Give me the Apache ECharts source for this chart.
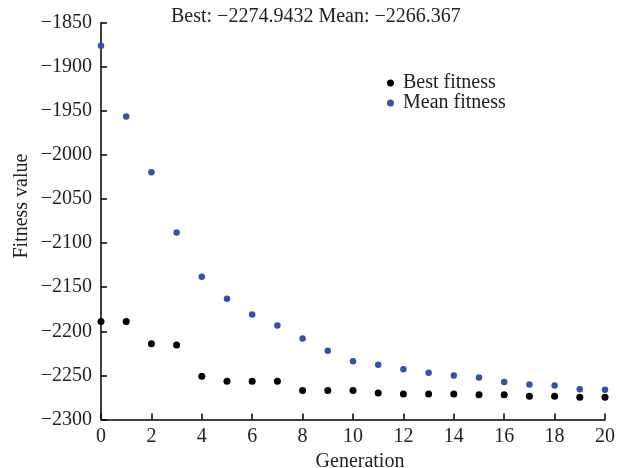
<!DOCTYPE html>
<html><head><meta charset="utf-8">
<script src="https://cdn.jsdelivr.net/npm/echarts@6/dist/echarts.min.js"></script>
<style>html,body{margin:0;padding:0;background:#fff}#c{width:624px;height:468px}</style>
</head><body><div id="c"></div>
<script>
const generations = [0,1,2,3,4,5,6,7,8,9,10,11,12,13,14,15,16,17,18,19,20];
const bestFitness = [-2189,-2189,-2214,-2215.5,-2251,-2256.5,-2256.5,-2256.5,-2267,-2267,-2267,-2270,-2271,-2271,-2271,-2272,-2272,-2273.6,-2273.6,-2274.9,-2274.9];
const meanFitness = [-1876,-1956.5,-2019.5,-2088,-2138,-2163,-2181,-2193.5,-2208,-2222,-2234,-2238,-2243,-2247,-2250,-2252.5,-2257.4,-2260.4,-2261.5,-2265.6,-2266.4];
const titleText = 'Best: \u22122274.9432 Mean: \u22122266.367';
const FONT = 'Liberation Serif';
const fmt = v => String(v).replace('-', '\u2212');
const chart = echarts.init(document.getElementById('c'), null, {renderer:'canvas'});
chart.setOption({
  animation:false,
  backgroundColor:'#fff',
  title:{text:titleText,left:171,top:7,padding:0,textStyle:{fontFamily:FONT,fontSize:20,fontWeight:'normal',color:'#222'}},
  legend:{orient:'vertical',left:382,top:68,itemGap:0,itemWidth:7,itemHeight:7,
    textStyle:{fontFamily:FONT,fontSize:20,color:'#222',padding:[0,0,0,4]},
    data:[{name:'Best fitness',icon:'circle'},{name:'Mean fitness',icon:'circle'}]},
  grid:{left:101,right:19,top:22.7,bottom:48.5,containLabel:false,outerBoundsMode:'none'},
  xAxis:{type:'value',min:0,max:20,interval:2,
    name:'Generation',nameLocation:'middle',nameGap:28,
    nameTextStyle:{fontFamily:FONT,fontSize:20,color:'#222',padding:[0,0,0,14]},
    axisLine:{lineStyle:{color:'#000',width:1.5}},
    axisTick:{inside:true,length:6,lineStyle:{color:'#000',width:1.5}},
    axisLabel:{fontFamily:FONT,fontSize:20,color:'#222',margin:7},
    splitLine:{show:false}},
  yAxis:{type:'value',min:-2300,max:-1850,interval:50,
    name:'Fitness value',nameLocation:'middle',nameGap:69,nameMoveOverlap:false,
    nameTextStyle:{fontFamily:FONT,fontSize:20,color:'#222',padding:[0,0,0,30]},
    axisLine:{lineStyle:{color:'#000',width:1.5}},
    axisTick:{inside:true,length:6,lineStyle:{color:'#000',width:1.5}},
    axisLabel:{fontFamily:FONT,fontSize:20,color:'#222',margin:9,formatter:fmt},
    splitLine:{show:false}},
  series:[
    {name:'Best fitness',type:'scatter',symbol:'circle',symbolSize:7,itemStyle:{color:'#000',opacity:1},
      data:generations.map((g,i)=>[g,bestFitness[i]])},
    {name:'Mean fitness',type:'scatter',symbol:'circle',symbolSize:6.5,itemStyle:{color:'#3552a8',opacity:1},
      data:generations.map((g,i)=>[g,meanFitness[i]])}
  ]
});
</script></body></html>
